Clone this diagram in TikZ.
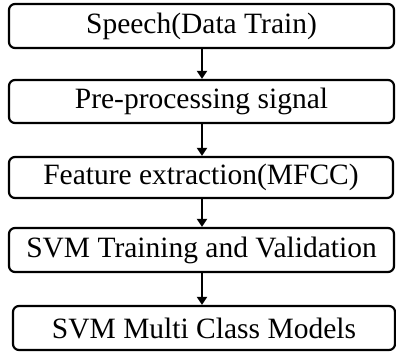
\documentclass[tikz,border=0pt]{standalone}
\usepackage{fontspec}
\setmainfont{Liberation Serif}
\usetikzlibrary{arrows.meta}
\tikzset{
  stage/.style={draw=black, line width=2.2pt, rounded corners=6pt, fill=white,
    inner sep=0pt, font=\fontsize{29.5}{31}\selectfont, anchor=center},
  flow/.style={line width=2.6pt, -{Triangle[width=10pt,length=8pt]}}
}
\begin{document}
\begin{tikzpicture}[x=1pt, y=-1pt]
  \useasboundingbox (0,0) rectangle (396,352);
  \node[stage, minimum width=385pt, minimum height=44pt] (s1) at (201.5,26) {Speech(Data Train)};
  \node[stage, minimum width=385pt, minimum height=43pt] (s2) at (201.5,101.5) {Pre-processing signal};
  \node[stage, minimum width=384pt, minimum height=41pt] (s3) at (201,177.5) {Feature extraction(MFCC)};
  \node[stage, minimum width=385pt, minimum height=44pt] (s4) at (201.5,250) {SVM Training and Validation};
  \node[stage, minimum width=382pt, minimum height=44pt] (s5) at (204,328) {SVM Multi Class Models};
  \draw[flow] (s1.south -| 202,0) -- (s2.north -| 202,0);
  \draw[flow] (s2.south -| 202,0) -- (s3.north -| 202,0);
  \draw[flow] (s3.south -| 202,0) -- (s4.north -| 202,0);
  \draw[flow] (s4.south -| 202,0) -- (s5.north -| 202,0);
\end{tikzpicture}
\end{document}
